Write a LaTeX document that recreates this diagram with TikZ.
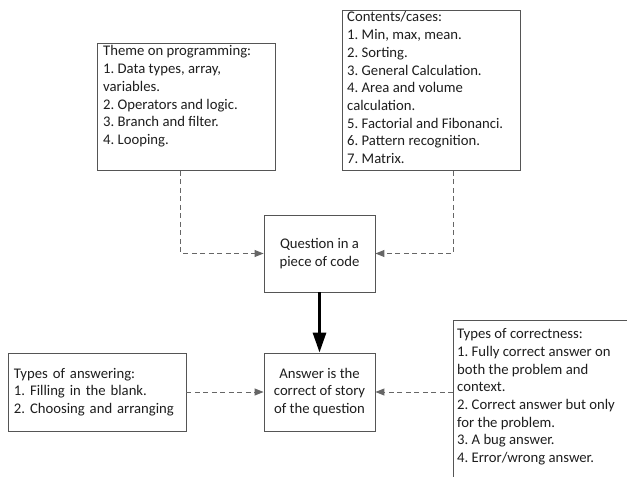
\documentclass[tikz,border=0pt]{standalone}
\usepackage{fontspec}
\setmainfont{Carlito}
\usetikzlibrary{arrows.meta}
\definecolor{boxgray}{HTML}{555555}
\definecolor{linegray}{HTML}{666666}
\definecolor{txtc}{HTML}{1E1E1E}
\begin{document}
\frenchspacing
\begin{tikzpicture}[x=1bp,y=-1bp,
  box/.style={draw=boxgray, line width=0.9bp, inner sep=0pt, fill=white},
  txt/.style={text=txtc, align=left, inner sep=0pt, font=\frenchspacing\fontsize{14.7bp}{17.7bp}\selectfont},
  ctxt/.style={text=txtc, align=center, font=\frenchspacing\fontsize{14.7bp}{17.7bp}\selectfont},
  dashline/.style={draw=linegray, line width=1bp, dash pattern=on 5bp off 3.5bp, -{Triangle[length=9bp,width=7bp]}},
  thickarrow/.style={draw=black, line width=3bp, -{Triangle[length=20bp,width=13bp]}}
]
\useasboundingbox (0,0) rectangle (627,477);
\clip (0,0) rectangle (627,477);
\fill[white] (0,0) rectangle (627,477);

% Theme box
\node[box, minimum width=178bp, minimum height=127bp, anchor=north west] (theme) at (97,43) {};
\node[txt, anchor=north west] (themet) at (103,45.5) {Theme on programming:\\1. Data types, array,\\variables.\\2. Operators and logic.\\3. Branch and filter.\\4. Looping.};

% Contents box
\node[box, minimum width=178bp, minimum height=160bp, anchor=north west] (contents) at (342,10) {};
\node[txt, anchor=north west] (contentst) at (347,11.5) {Contents/cases:\\1. Min, max, mean.\\2. Sorting.\\3. General Calculation.\\4. Area and volume\\calculation.\\5. Factorial and Fibonanci.\\6. Pattern recognition.\\7. Matrix.};

% Question box
\node[box, ctxt, minimum width=111bp, minimum height=77bp] (question) at (319.5,253.5) {Question in a\\piece of code};

% Answer box
\node[box, ctxt, minimum width=111bp, minimum height=78bp] (answer) at (319.5,392) {Answer is the\\correct of story\\of the question};

% Types of answering box
\node[box, txt, text width=166bp, inner xsep=6bp, minimum height=78bp] (answering) at (97,392) {Types of answering:\\1. Filling in the blank.\\2. Choosing and arranging};

% Types of correctness box (runs past the right and bottom edges)
\node[box, minimum width=260bp, minimum height=200bp, anchor=north west] (correct) at (453,320) {};
\node[txt, anchor=north west] (correctt) at (457,328.5) {Types of correctness:\\1. Fully correct answer on\\both the problem and\\context.\\2. Correct answer but only\\for the problem.\\3. A bug answer.\\4. Error/wrong answer.};

% Connectors
\draw[dashline] ([xshift=-5.5bp]theme.south) |- (question.west);
\draw[dashline] ([xshift=22bp]contents.south) |- (question.east);
\draw[thickarrow] (question.south) -- (answer.north);
\draw[dashline] (answering.east) -- (answer.west);
\draw[dashline] (correct.west |- answer.east) -- (answer.east);
\end{tikzpicture}
\end{document}
